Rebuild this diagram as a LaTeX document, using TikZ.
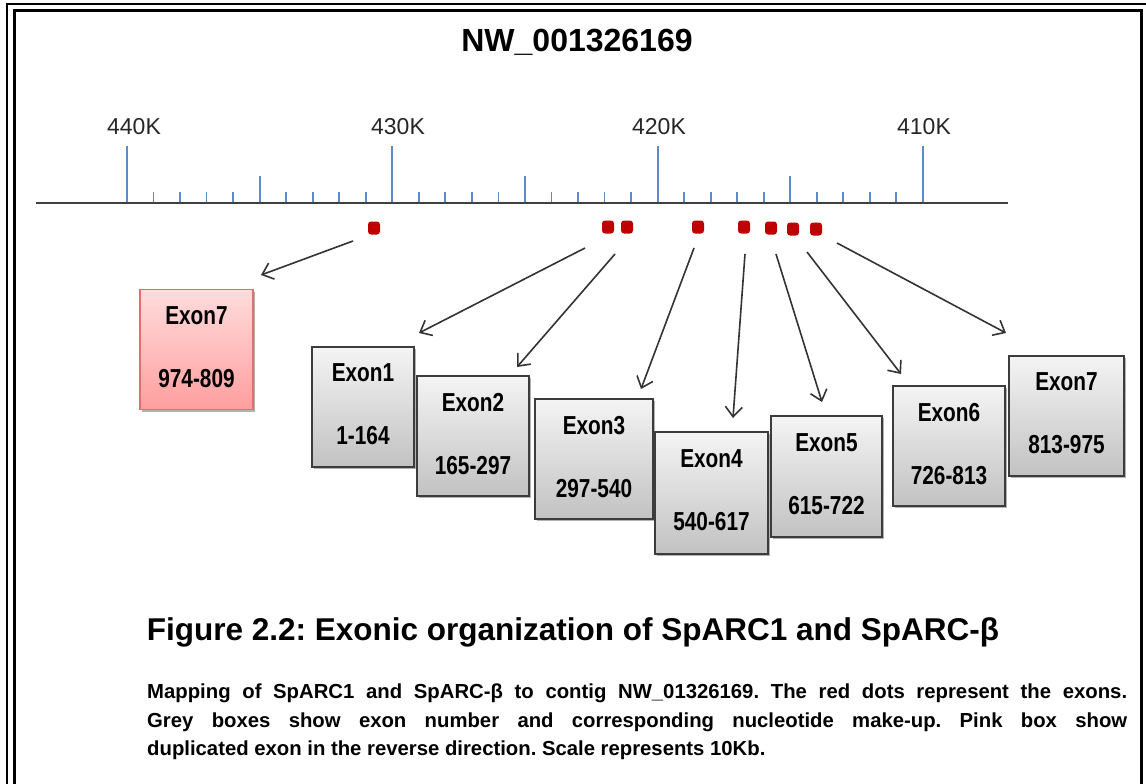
\documentclass[tikz,border=0pt]{standalone}
\usepackage{fontspec}
\setmainfont{Liberation Sans}
\newfontfamily\boxfont[FakeStretch=0.8]{Liberation Sans}
\usetikzlibrary{arrows.meta,shadows}
\frenchspacing

\definecolor{tickblue}{HTML}{5B8BC8}
\definecolor{dotred}{HTML}{C00000}
\definecolor{boxedge}{HTML}{3C3C3C}
\definecolor{greytop}{HTML}{F4F4F4}
\definecolor{greybot}{HTML}{C2C2C2}
\definecolor{pinktop}{HTML}{FFDCDC}
\definecolor{pinkbot}{HTML}{FF9E9E}
\definecolor{pinkedge}{HTML}{E07070}

\tikzset{
  exonbox/.style={draw=boxedge, line width=1.5pt, top color=greytop, bottom color=greybot,
    minimum height=120pt, inner sep=0pt, align=center, text depth=5pt,
    font=\boxfont\bfseries\fontsize{26}{63}\selectfont,
    drop shadow={shadow xshift=2pt, shadow yshift=-2pt, opacity=0.3, fill=black}},
  dupbox/.style={exonbox, draw=pinkedge, top color=pinktop, bottom color=pinkbot},
  exondot/.style={fill=dotred, rounded corners=3pt, minimum width=12pt, minimum height=13pt, inner sep=0pt},
  link/.style={draw=black!80, line width=1.6pt, -{Straight Barb[length=10pt,width=17pt,line width=1.6pt]}},
  scalelabel/.style={font=\fontsize{23}{26}\selectfont, text=black!85}
}

\begin{document}
\begin{tikzpicture}[x=1pt, y=-1pt]
  \useasboundingbox (0,0) rectangle (1146,784);
  \clip (0,0) rectangle (1146,784);
  % frame
  \draw[line width=2pt] (7,4) rectangle (1160,800);
  \draw[line width=3pt] (14,10.5) rectangle (1141,800);

  \node[font=\bfseries\fontsize{32}{36}\selectfont] (title) at (577,42) {NW\_001326169};

  % scale
  \draw[black!75, line width=2pt] (36,203) -- (1008,203);
  \foreach \i in {0,...,30} {
    \pgfmathsetmacro\tx{127+\i*26.53}
    \pgfmathsetmacro\ty{mod(\i,10)==0 ? 146 : (mod(\i,5)==0 ? 176 : 192)}
    \draw[tickblue, line width=1.8pt] (\tx,202) -- (\tx,\ty);
  }
  \node[scalelabel] (k440) at (134,127) {440K};
  \node[scalelabel] (k430) at (398,127) {430K};
  \node[scalelabel] (k420) at (659,127) {420K};
  \node[scalelabel] (k410) at (924,127) {410K};

  % exons on the contig
  \node[exondot] (d7r) at (374,228) {};
  \node[exondot] (d1) at (608,227) {};
  \node[exondot] (d2) at (627,227) {};
  \node[exondot] (d3) at (698,227) {};
  \node[exondot] (d4) at (744,227) {};
  \node[exondot] (d5) at (771,228) {};
  \node[exondot] (d6) at (793,229) {};
  \node[exondot] (d7) at (816,229) {};

  \node[dupbox, minimum width=113pt] (x7r) at (196.5,349.5) {Exon7\\974-809};
  \node[exonbox, minimum width=102pt] (x1) at (363,407) {Exon1\\1-164};
  \node[exonbox, minimum width=112pt] (x2) at (473,436) {Exon2\\165-297};
  \node[exonbox, minimum width=118pt] (x3) at (594,459) {Exon3\\297-540};
  \node[exonbox, minimum width=113pt, minimum height=122pt] (x4) at (711.5,493) {Exon4\\540-617};
  \node[exonbox, minimum width=111pt, minimum height=121pt] (x5) at (826.5,476.5) {Exon5\\615-722};
  \node[exonbox, minimum width=112pt] (x6) at (949,446) {Exon6\\726-813};
  \node[exonbox, minimum width=115pt] (x7) at (1066.5,416) {Exon7\\813-975};

  \coordinate (s7r) at (353,241);  \coordinate (t7r) at (261,275);
  \coordinate (s1) at (585,248);   \coordinate (t1) at (419,333);
  \coordinate (s2) at (615,254);   \coordinate (t2) at (517,367);
  \coordinate (s3) at (694,248);   \coordinate (t3) at (641,389);
  \coordinate (s4) at (745,254);   \coordinate (t4) at (733,418);
  \coordinate (s5) at (776,254);   \coordinate (t5) at (822,402);
  \coordinate (s6) at (807,252);   \coordinate (t6) at (901,374);
  \coordinate (s7) at (837,243);   \coordinate (t7) at (1006,333);
  \draw[link] (s7r) -- (t7r);
  \draw[link] (s1) -- (t1);
  \draw[link] (s2) -- (t2);
  \draw[link] (s3) -- (t3);
  \draw[link] (s4) -- (t4);
  \draw[link] (s5) -- (t5);
  \draw[link] (s6) -- (t6);
  \draw[link] (s7) -- (t7);

  % caption
  \node[font=\bfseries\fontsize{31.5}{36}\selectfont] (caption) at (573,632)
    {Figure 2.2: Exonic organization of SpARC1 and SpARC-β};
  \node[anchor=north west, inner sep=0pt, text width=980pt, align=justify,
    font=\bfseries\fontsize{20.3}{28.5}\selectfont] (legend) at (147,684)
    {Mapping of SpARC1 and SpARC-β to contig NW\_01326169. The red dots represent the exons.\linebreak
     Grey boxes show exon number and corresponding nucleotide make-up. Pink box show\linebreak
     duplicated exon in the reverse direction. Scale represents 10Kb.};
\end{tikzpicture}
\end{document}
